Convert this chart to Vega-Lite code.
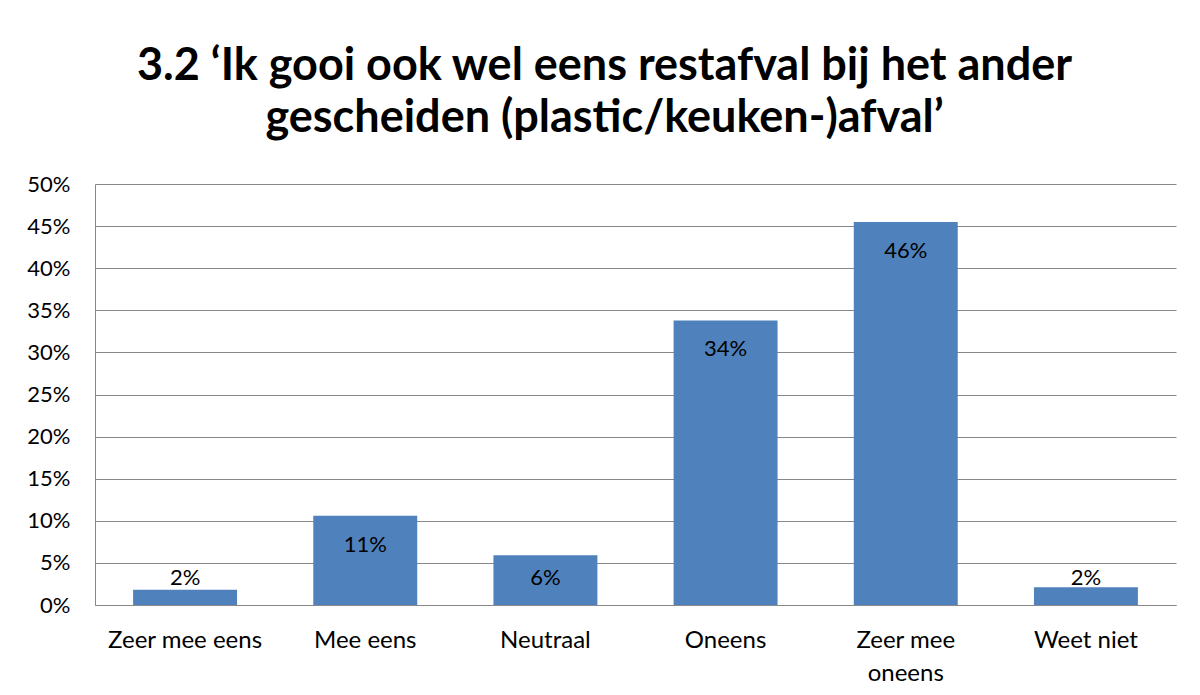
{
  "$schema": "https://vega.github.io/schema/vega-lite/v6.json",
  "width": 1081,
  "height": 421,
  "autosize": {"type": "none"},
  "padding": {"left": 95, "top": 184, "right": 24, "bottom": 90},
  "background": "white",
  "title": {
    "text": ["3.2 ‘Ik gooi ook wel eens restafval bij het ander", "gescheiden (plastic/keuken-)afval’"],
    "font": "Lato",
    "fontSize": 45,
    "fontWeight": "bold",
    "color": "black",
    "anchor": "middle",
    "dx": -31,
    "lineHeight": 52,
    "baseline": "alphabetic",
    "offset": -4
  },
  "data": {
    "values": [
      {"categorie": "Zeer mee eens", "aandeel": 0.018, "label": "2%"},
      {"categorie": "Mee eens", "aandeel": 0.106, "label": "11%"},
      {"categorie": "Neutraal", "aandeel": 0.059, "label": "6%"},
      {"categorie": "Oneens", "aandeel": 0.338, "label": "34%"},
      {"categorie": "Zeer mee oneens", "aandeel": 0.455, "label": "46%"},
      {"categorie": "Weet niet", "aandeel": 0.021, "label": "2%"}
    ]
  },
  "encoding": {
    "x": {
      "field": "categorie",
      "type": "nominal",
      "sort": null,
      "scale": {"paddingInner": 0.423, "paddingOuter": 0.2115},
      "axis": {
        "title": null,
        "labelAngle": 0,
        "ticks": false,
        "domainColor": "#888888",
        "labelFont": "Lato",
        "labelFontSize": 24,
        "labelColor": "black",
        "labelPadding": 23,
        "labelLineHeight": 33,
        "labelExpr": "datum.label == 'Zeer mee oneens' ? ['Zeer mee', 'oneens'] : datum.label"
      }
    }
  },
  "layer": [
    {
      "mark": {"type": "bar", "color": "#4f81bd"},
      "encoding": {
        "y": {
          "field": "aandeel",
          "type": "quantitative",
          "scale": {"domain": [0, 0.5]},
          "axis": {
            "title": null,
            "format": ".0%",
            "values": [0, 0.05, 0.1, 0.15, 0.2, 0.25, 0.3, 0.35, 0.4, 0.45, 0.5],
            "ticks": false,
            "grid": true,
            "gridColor": "#888888",
            "domainColor": "#888888",
            "labelFont": "Lato",
            "labelFontSize": 22,
            "labelColor": "black",
            "labelPadding": 25
          }
        }
      }
    },
    {
      "transform": [{"calculate": "max(datum.aandeel, 0.066)", "as": "labelpos"}],
      "mark": {"type": "text", "baseline": "middle", "dy": 29, "font": "Lato", "fontSize": 22, "color": "black"},
      "encoding": {
        "y": {"field": "labelpos", "type": "quantitative"},
        "text": {"field": "label"}
      }
    }
  ],
  "config": {
    "view": {"stroke": null}
  }
}
